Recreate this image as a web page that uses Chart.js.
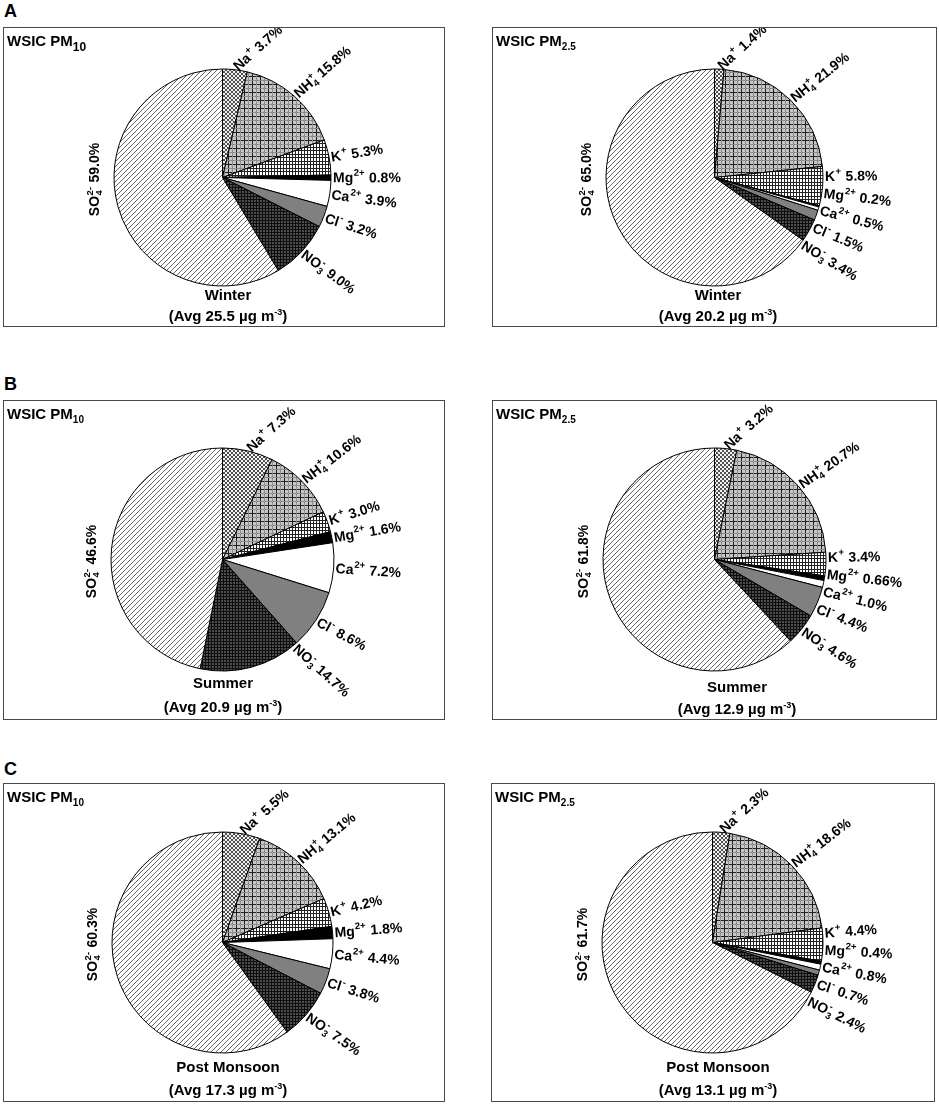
<!DOCTYPE html>
<html><head><meta charset="utf-8">
<script src="https://cdn.jsdelivr.net/npm/chart.js@4.4.1/dist/chart.umd.min.js"></script>
<style>
body{margin:0;width:939px;height:1105px;background:#fff;font-family:"Liberation Sans",Arial,sans-serif;position:relative;overflow:hidden;color:#000}
.letter{position:absolute;font-weight:bold;font-size:18px;line-height:18px}
.box{position:absolute;border:1.5px solid #4a4a4a;box-sizing:border-box}
.box canvas{position:absolute;left:0;top:0}
.hdr{position:absolute;left:3px;top:5px;font-weight:bold;font-size:15px;line-height:15px;white-space:nowrap;z-index:2}
.hdr sub{font-size:10px;vertical-align:-4px;line-height:0}
.hdr sub.big{font-size:12px;vertical-align:-5px}
.cap{position:absolute;font-weight:bold;font-size:15px;line-height:18px;text-align:center;transform:translateX(-50%);white-space:nowrap}
.cap sup{font-size:9px;vertical-align:6px;line-height:0}
</style>
</head><body>
<script>
// ---------------- DATA ----------------
const ions = ['Na^+', 'NH_4^+', 'K^+', 'Mg^{2+}', 'Ca^{2+}', 'Cl^-', 'NO_3^-', 'SO_4^{2-}'];
const winterPM10 = [3.7, 15.8, 5.3, 0.8, 3.9, 3.2, 9.0, 59.0];
const winterPM25 = [1.4, 21.9, 5.8, 0.2, 0.5, 1.5, 3.4, 65.0];
const summerPM10 = [7.3, 10.6, 3.0, 1.6, 7.2, 8.6, 14.7, 46.6];
const summerPM25 = [3.2, 20.7, 3.4, 0.66, 1.0, 4.4, 4.6, 61.8];
const postPM10 = [5.5, 13.1, 4.2, 1.8, 4.4, 3.8, 7.5, 60.3];
const postPM25 = [2.3, 18.6, 4.4, 0.4, 0.8, 0.7, 2.4, 61.7];
const seasons = ['Winter', 'Summer', 'Post Monsoon'];
const avgPM10 = ['25.5', '20.9', '17.3'];
const avgPM25 = ['20.2', '12.9', '13.1'];
const panelLetters = ['A', 'B', 'C'];

// ---------------- LAYOUT ----------------
const letterTops = [2, 375, 760];
const panels = [
  {vals: winterPM10, pm: '10', big: true, season: 0, avg: avgPM10[0], box: [3, 27, 442, 300], c: [223, 178], r: 109, cap: [228, 295, 316]},
  {vals: winterPM25, pm: '2.5', season: 0, avg: avgPM25[0], box: [492, 27, 445, 300], c: [715, 178], r: 109, cap: [718, 295, 316]},
  {vals: summerPM10, pm: '10', season: 1, avg: avgPM10[1], box: [3, 400, 442, 320], c: [223, 560], r: 112, cap: [223, 683, 707]},
  {vals: summerPM25, pm: '2.5', season: 1, avg: avgPM25[1], box: [492, 400, 445, 320], c: [715, 560], r: 112, cap: [737, 687, 709]},
  {vals: postPM10, pm: '10', season: 2, avg: avgPM10[2], box: [3, 783, 442, 319], c: [223, 943], r: 111, cap: [228, 1067, 1090]},
  {vals: postPM25, pm: '2.5', season: 2, avg: avgPM25[2], box: [491, 783, 444, 319], c: [713, 943], r: 111, cap: [718, 1067, 1090]}
];

// ---------------- PATTERNS ----------------
function makePattern(w, h, draw) {
  const c = document.createElement('canvas'); c.width = w; c.height = h;
  const g = c.getContext('2d'); draw(g, w, h);
  return g.createPattern(c, 'repeat');
}
const fills = [
  makePattern(4, 4, (g) => { g.fillStyle = '#f2f2f2'; g.fillRect(0,0,4,4); g.fillStyle = '#505050';
    [[0,0],[1,1],[2,2],[3,3],[3,0],[2,1],[1,2],[0,3]].forEach(([x,y]) => g.fillRect(x,y,1,1)); }),
  makePattern(8, 8, (g) => { g.fillStyle = '#c6c6c6'; g.fillRect(0,0,8,8); g.fillStyle = '#1e1e1e';
    g.fillRect(0,0,1,8); g.fillRect(0,0,8,1); g.fillStyle = '#8c8c8c'; g.fillRect(4,0,1,8); g.fillRect(0,4,8,1); }),
  makePattern(6, 7, (g) => { g.fillStyle = '#fff'; g.fillRect(0,0,6,7); g.fillStyle = '#222';
    g.fillRect(0,0,1,7); g.fillRect(3,0,1,7); g.fillRect(0,0,6,1); g.fillRect(0,3,6,1); }),
  '#000000',
  '#ffffff',
  '#808080',
  makePattern(3, 3, (g) => { g.fillStyle = '#4c4c4c'; g.fillRect(0,0,3,3); g.fillStyle = '#0e0e0e';
    g.fillRect(0,0,1,3); g.fillRect(0,0,3,1); }),
  makePattern(5, 5, (g) => { g.fillStyle = '#fff'; g.fillRect(0,0,5,5); g.strokeStyle = '#555'; g.lineWidth = 0.9;
    g.beginPath(); g.moveTo(-1,6); g.lineTo(6,-1); g.moveTo(-1,1); g.lineTo(1,-1); g.moveTo(4,6); g.lineTo(6,4); g.stroke(); })
];

// ---------------- RICH TEXT ----------------
const MAIN = 'bold 14px "Liberation Sans", Arial, sans-serif';
const SMALL = 'bold 9.5px "Liberation Sans", Arial, sans-serif';
function parseRich(s) {
  const out = []; let i = 0, buf = '';
  const readArg = () => { if (s[i] === '{') { const j = s.indexOf('}', i); const a = s.slice(i + 1, j); i = j + 1; return a; } return s[i++]; };
  while (i < s.length) {
    const ch = s[i];
    if (ch === '^' || ch === '_') {
      if (buf) { out.push({k: 'n', t: buf}); buf = ''; }
      i++; const a = readArg();
      if (ch === '_' && s[i] === '^') { i++; const b = readArg(); out.push({k: 'st', sub: a, sup: b}); }
      else out.push({k: ch === '^' ? 'sup' : 'sub', t: a});
    } else { buf += ch; i++; }
  }
  if (buf) out.push({k: 'n', t: buf});
  return out;
}
function segW(ctx, s) {
  if (s.k === 'n') { ctx.font = MAIN; return ctx.measureText(s.t).width; }
  ctx.font = SMALL;
  if (s.k === 'st') return Math.max(ctx.measureText(s.sub).width, ctx.measureText(s.sup).width) + 1;
  return ctx.measureText(s.t).width + 1;
}
function drawRich(ctx, str, x, y, rot, align) {
  const segs = parseRich(str);
  ctx.save(); ctx.translate(x, y); ctx.rotate(rot);
  ctx.fillStyle = '#000'; ctx.textBaseline = 'alphabetic'; ctx.textAlign = 'left';
  let w = 0; segs.forEach(s => w += segW(ctx, s));
  let px = align === 'center' ? -w / 2 : 0; const base = 5;
  segs.forEach(s => {
    const sw = segW(ctx, s);
    if (s.k === 'n') { ctx.font = MAIN; ctx.fillText(s.t, px, base); }
    else {
      ctx.font = SMALL;
      if (s.k === 'sup') ctx.fillText(s.t, px + 0.5, base - 6.5);
      else if (s.k === 'sub') ctx.fillText(s.t, px + 0.5, base + 3);
      else { ctx.fillText(s.sup, px + 0.5, base - 6.5); ctx.fillText(s.sub, px + 0.5, base + 3); }
    }
    px += sw;
  });
  ctx.restore();
}
function fmt(v) { return Math.abs(v * 10 - Math.round(v * 10)) < 1e-9 ? v.toFixed(1) : v.toFixed(2); }

// ---------------- LABEL PLUGIN ----------------
const MAX_DIR = 50 * Math.PI / 180;
const labelPlugin = {
  id: 'ionLabels',
  afterDraw(chart) {
    const ctx = chart.ctx;
    const meta = chart.getDatasetMeta(0);
    const vals = chart.data.datasets[0].data;
    const items = meta.data.map((arc, i) => {
      const p = arc.getProps(['x', 'y', 'startAngle', 'endAngle', 'outerRadius'], true);
      return {i, mid: (p.startAngle + p.endAngle) / 2, cx: p.x, cy: p.y, r: p.outerRadius,
              text: chart.data.labels[i] + ' ' + fmt(vals[i]) + '%'};
    });
    const R = items[0].r + 2;
    const right = items.filter(it => Math.cos(it.mid) >= 0);
    const left = items.filter(it => Math.cos(it.mid) < 0);
    right.forEach(it => { const m = Math.min(it.mid, MAX_DIR); it.ay = it.cy + Math.sin(m) * R; });
    right.sort((a, b) => a.ay - b.ay);
    const gap = 17;
    for (let iter = 0; iter < 300; iter++) {
      let moved = false;
      for (let k = 1; k < right.length; k++) {
        const d = right[k].ay - right[k - 1].ay;
        if (d < gap - 0.01) { const s = (gap - d) / 2; right[k].ay += s; right[k - 1].ay -= s; moved = true; }
      }
      if (!moved) break;
    }
    right.forEach(it => {
      const dy = it.ay - it.cy;
      const dx = Math.sqrt(Math.max(R * R - dy * dy, 0));
      const dir = Math.atan2(dy, dx) * 180 / Math.PI;
      const rot = Math.max(-42, Math.min(42, dir * 0.85));
      drawRich(ctx, it.text, it.cx + dx, it.ay, rot * Math.PI / 180, 'left');
    });
    left.forEach(it => {
      drawRich(ctx, it.text, it.cx - it.r - 20, it.cy + 2, -Math.PI / 2, 'center');
    });
  }
};

// ---------------- BUILD ----------------
panelLetters.forEach((L, k) => {
  const d = document.createElement('div'); d.className = 'letter';
  d.style.left = '4px'; d.style.top = letterTops[k] + 'px'; d.textContent = L;
  document.body.appendChild(d);
});
panels.forEach(p => {
  const [bx, by, bw, bh] = p.box;
  const box = document.createElement('div'); box.className = 'box';
  Object.assign(box.style, {left: bx + 'px', top: by + 'px', width: bw + 'px', height: bh + 'px'});
  const hdr = document.createElement('div'); hdr.className = 'hdr';
  hdr.innerHTML = 'WSIC PM<sub' + (p.big ? ' class="big"' : '') + '>' + p.pm + '</sub>';
  box.appendChild(hdr);
  const W = bw - 3, H = bh - 3;
  const cv = document.createElement('canvas'); cv.width = W; cv.height = H;
  cv.style.width = W + 'px'; cv.style.height = H + 'px';
  box.appendChild(cv);
  document.body.appendChild(box);
  const cx = p.c[0] - bx - 1.5, cy = p.c[1] - by - 1.5, r = p.r;
  new Chart(cv, {
    type: 'pie',
    data: {labels: ions, datasets: [{data: p.vals, backgroundColor: fills, borderColor: '#000', borderWidth: 1, hoverOffset: 0}]},
    options: {
      responsive: false, animation: false, events: [],
      layout: {padding: {left: cx - r, right: W - cx - r, top: cy - r, bottom: H - cy - r}},
      plugins: {legend: {display: false}, tooltip: {enabled: false}}
    },
    plugins: [labelPlugin]
  });
  const c1 = document.createElement('div'); c1.className = 'cap';
  c1.style.left = p.cap[0] + 'px'; c1.style.top = (p.cap[1] - 9) + 'px'; c1.textContent = seasons[p.season];
  const c2 = document.createElement('div'); c2.className = 'cap';
  c2.style.left = p.cap[0] + 'px'; c2.style.top = (p.cap[2] - 9) + 'px';
  c2.innerHTML = '(Avg ' + p.avg + ' µg m<sup>-3</sup>)';
  document.body.appendChild(c1); document.body.appendChild(c2);
});
</script>
</body></html>
